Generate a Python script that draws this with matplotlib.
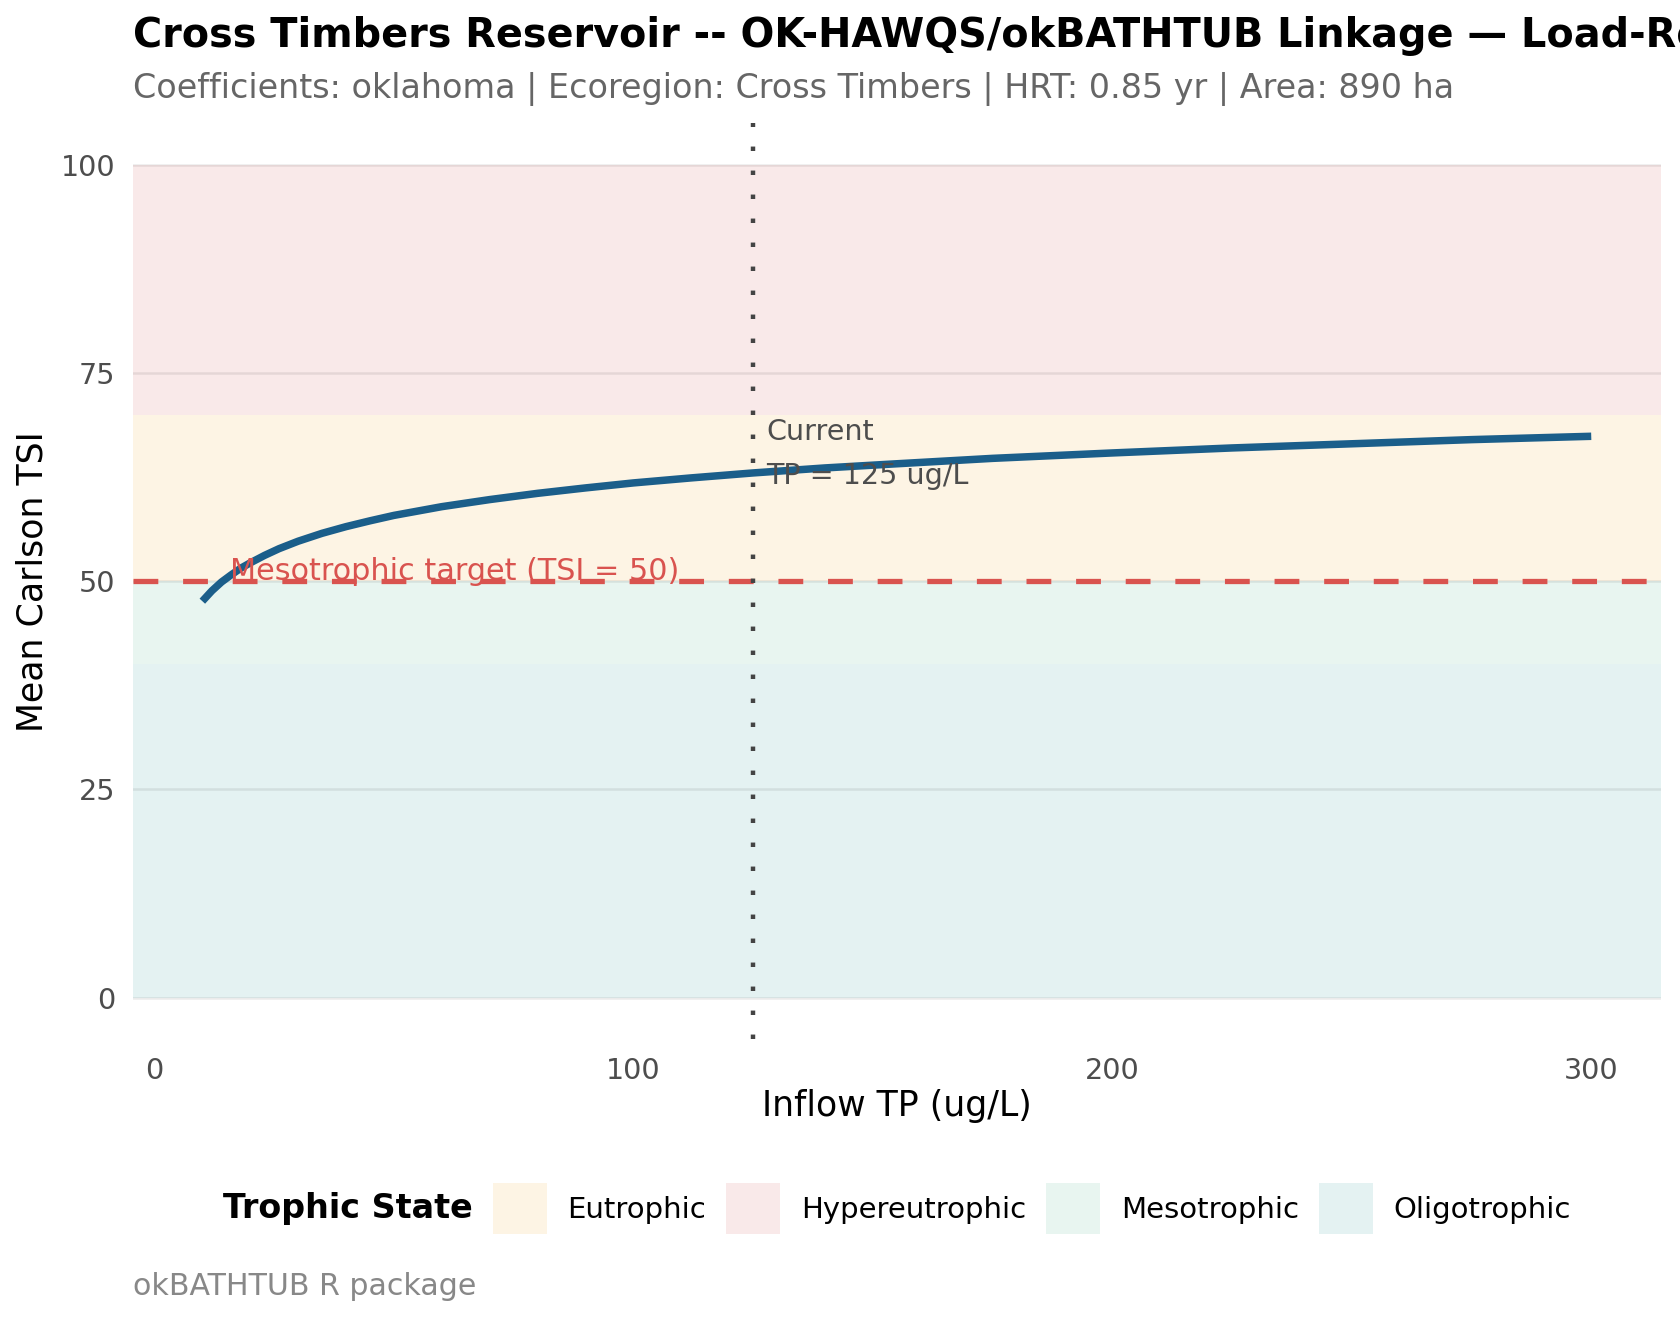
import matplotlib
matplotlib.use("Agg")
import matplotlib.pyplot as plt
from matplotlib.patches import Patch

# response curve
tp_in = [10, 12, 14, 16, 18, 20, 23, 26, 30, 35, 40, 45, 50, 60, 70, 80, 90,
         100, 112, 125, 140, 155, 175, 200, 225, 250, 275, 300]
tsi_mean = [47.6, 48.85, 49.9, 50.75, 51.55, 52.2, 53.1, 53.9, 54.8, 55.75,
            56.55, 57.25, 57.9, 58.95, 59.8, 60.55, 61.2, 61.8, 62.4, 63.0,
            63.6, 64.1, 64.75, 65.4, 66.0, 66.5, 67.0, 67.4]

current_tp = 125
target_tsi = 50

states = ["Oligotrophic", "Mesotrophic", "Eutrophic", "Hypereutrophic"]
state_lo = [0, 40, 50, 70]
state_hi = [40, 50, 70, 100]
state_col = {"Eutrophic": "#fdf4e4", "Hypereutrophic": "#f9e9e9",
             "Mesotrophic": "#e8f5f0", "Oligotrophic": "#e4f2f2"}
legend_order = ["Eutrophic", "Hypereutrophic", "Mesotrophic", "Oligotrophic"]

title = "Cross Timbers Reservoir -- OK-HAWQS/okBATHTUB Linkage \u2014 Load-Response Curve"
subtitle = "Coefficients: oklahoma | Ecoregion: Cross Timbers | HRT: 0.85 yr | Area: 890 ha"

plt.rcParams["font.family"] = "DejaVu Sans"
fig = plt.figure(figsize=(8.4, 6.6), dpi=200)
ax = fig.add_axes([0.0791, 0.2127, 0.9094, 0.694])

for s, lo, hi in zip(states, state_lo, state_hi):
    ax.axhspan(lo, hi, color=state_col[s], lw=0, zorder=0)
for g in [0, 25, 50, 75, 100]:
    ax.axhline(g, color=(0, 0, 0, 0.08), lw=0.9, zorder=0.5)

ax.axhline(target_tsi, color="#d9534f", lw=1.9, ls=(0, (4.7, 4.7)), zorder=2)
ax.axvline(current_tp, color="#444444", lw=1.6, ls=(0, (1, 4.4)), zorder=2,
           dash_capstyle="butt")
ax.plot(tp_in, tsi_mean, color="#1b5e8a", lw=2.7, zorder=3,
        solid_capstyle="butt", solid_joinstyle="round")

ax.text(15.8, 50.1, "Mesotrophic target (TSI = 50)", color="#d9534f",
        fontsize=10.9, va="baseline", ha="left", zorder=4)
ax.text(127.8, 65.3, "Current\nTP = 125 ug/L", color="#4d4d4d",
        fontsize=10.3, va="center", ha="left", linespacing=1.75, zorder=4)

ax.set_xlim(-4.5, 314.5)
ax.set_ylim(-5, 105)
ax.set_xticks([0, 100, 200, 300])
ax.set_yticks([0, 25, 50, 75, 100])
ax.tick_params(length=0, labelsize=10.3, labelcolor="#4d4d4d", pad=6.4)
for sp in ax.spines.values():
    sp.set_visible(False)

fig.text(0.5338, 0.1623, "Inflow TP (ug/L)", ha="center", va="center",
         fontsize=12.5)
fig.text(0.0191, 0.5597, "Mean Carlson TSI", ha="center", va="center",
         rotation=90, fontsize=12.5)

fig.text(0.0791, 0.9643, title, fontsize=14.3, fontweight="bold", va="baseline")
fig.text(0.0791, 0.9261, subtitle, fontsize=12, color="#666666",
         va="baseline")
fig.text(0.0791, 0.0187, "okBATHTUB R package", fontsize=10.8,
         color="#888888", va="baseline")

fig.text(0.1327, 0.0844, "Trophic State", fontsize=12, fontweight="bold",
         va="center", ha="left")
handles = [Patch(facecolor=state_col[s], edgecolor="none", label=s)
           for s in legend_order]
fig.legend(handles=handles, loc="center left", bbox_to_anchor=(0.2934, 0.0844),
           ncol=4, frameon=False, fontsize=10.5, handlelength=1.85,
           handleheight=2.3, handletextpad=0.7, columnspacing=0.7,
           borderpad=0, borderaxespad=0)

fig.savefig("out.png", dpi=200, facecolor="white")
